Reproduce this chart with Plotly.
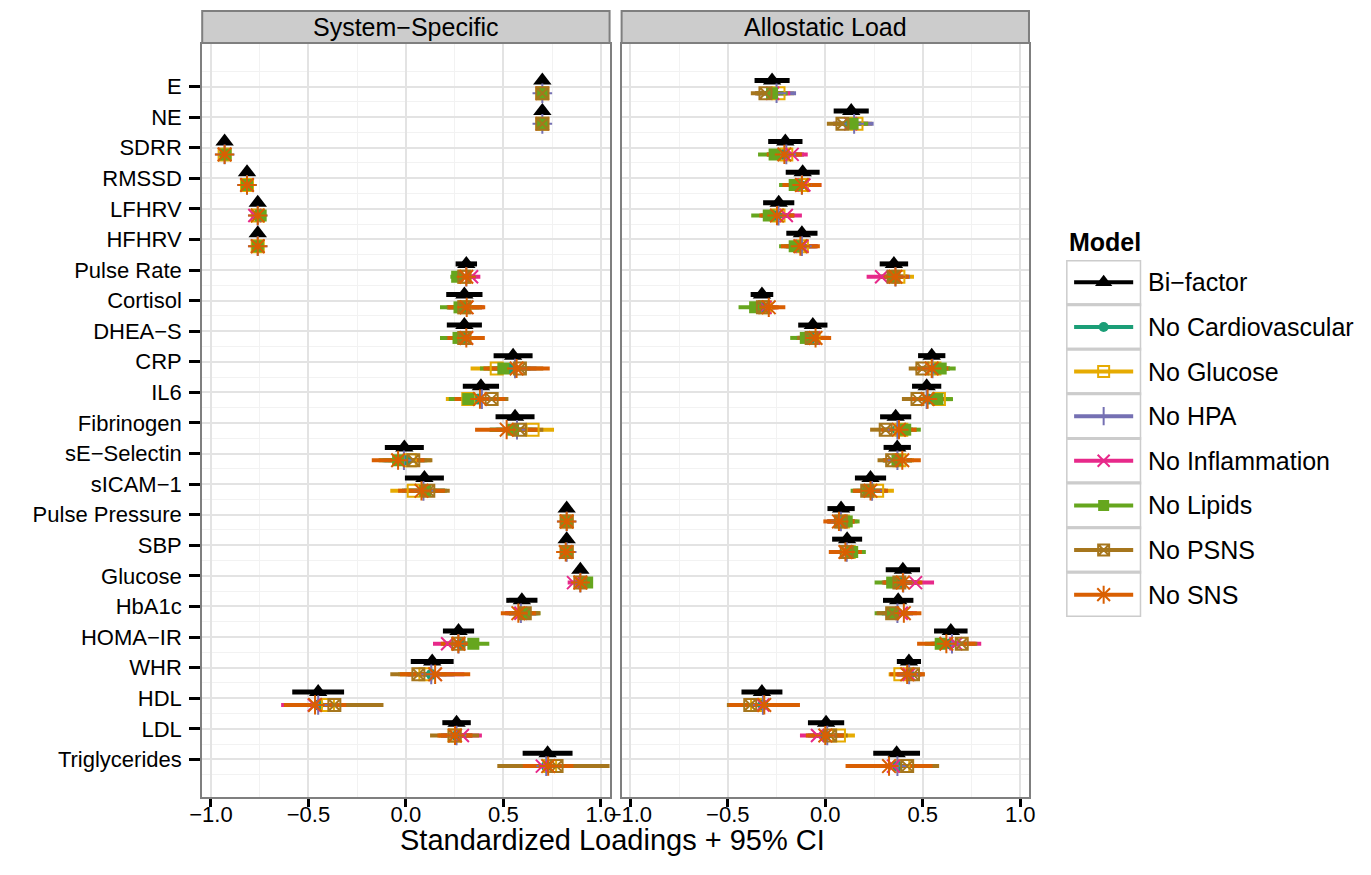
import plotly.graph_objects as go

W, H = 1371, 875

variables = ["E", "NE", "SDRR", "RMSSD", "LFHRV", "HFHRV", "Pulse Rate", "Cortisol",
             "DHEA\u2212S", "CRP", "IL6", "Fibrinogen", "sE\u2212Selectin", "sICAM\u22121",
             "Pulse Pressure", "SBP", "Glucose", "HbA1c", "HOMA\u2212IR", "WHR", "HDL",
             "LDL", "Triglycerides"]

models = ["Bi\u2212factor", "No Cardiovascular", "No Glucose", "No HPA",
          "No Inflammation", "No Lipids", "No PSNS", "No SNS"]
colors = ["#000000", "#1B9E77", "#E6AB02", "#7570B3", "#E7298A", "#66A61E", "#A6761D", "#D95F02"]
symbols = ["triangle-up", "circle", "square-open", "cross-thin-open", "x-thin-open",
           "square", "square-x-open", "asterisk-open"]

N = None
# ---------------- System-Specific loadings (estimate, 95% CI half-width) ----------------
ss_bifactor_est = [0.70, 0.70, -0.93, -0.815, -0.76, -0.76, 0.31, 0.30, 0.30, 0.55, 0.385, 0.56, -0.008, 0.095, 0.825, 0.825, 0.895, 0.595, 0.27, 0.135, -0.45, 0.26, 0.727]
ss_bifactor_hw = [0.012, 0.012, 0.012, 0.012, 0.012, 0.012, 0.055, 0.093, 0.09, 0.10, 0.093, 0.10, 0.10, 0.10, 0.012, 0.012, 0.015, 0.08, 0.08, 0.11, 0.133, 0.073, 0.128]
ss_cardio_est = [0.70, 0.70, -0.93, -0.815, -0.76, -0.76, N, 0.30, 0.30, 0.53, 0.37, 0.54, 0.0, 0.09, N, N, 0.90, 0.60, 0.28, 0.13, -0.45, 0.26, 0.72]
ss_cardio_hw = [0.012, 0.012, 0.012, 0.012, 0.012, 0.012, N, 0.09, 0.09, 0.11, 0.10, 0.11, 0.11, 0.11, N, N, 0.02, 0.08, 0.08, 0.12, 0.14, 0.08, 0.13]
ss_glucose_est = [0.70, 0.70, -0.93, -0.815, -0.76, -0.76, 0.30, 0.30, 0.30, 0.466, 0.32, 0.65, 0.02, 0.04, 0.825, 0.825, N, N, N, 0.10, -0.40, 0.25, 0.74]
ss_glucose_hw = [0.012, 0.012, 0.012, 0.012, 0.012, 0.012, 0.05, 0.09, 0.09, 0.134, 0.115, 0.11, 0.11, 0.12, 0.012, 0.012, N, N, N, 0.14, 0.15, 0.08, 0.14]
ss_hpa_est = [0.70, 0.70, -0.93, -0.815, -0.76, -0.76, 0.31, N, N, 0.56, 0.39, 0.57, -0.01, 0.09, 0.825, 0.825, 0.895, 0.59, 0.27, 0.13, -0.45, 0.26, 0.72]
ss_hpa_hw = [0.012, 0.012, 0.012, 0.012, 0.012, 0.012, 0.05, N, N, 0.11, 0.10, 0.11, 0.11, 0.11, 0.012, 0.012, 0.02, 0.08, 0.08, 0.12, 0.14, 0.08, 0.13]
ss_inflam_est = [0.70, 0.70, -0.93, -0.815, -0.775, -0.76, 0.337, 0.31, 0.31, N, N, N, N, N, 0.825, 0.825, 0.86, 0.59, 0.214, 0.15, -0.47, 0.29, 0.70]
ss_inflam_hw = [0.012, 0.012, 0.012, 0.012, 0.015, 0.012, 0.045, 0.09, 0.09, N, N, N, N, N, 0.012, 0.012, 0.03, 0.08, 0.075, 0.15, 0.17, 0.10, 0.13]
ss_lipids_est = [0.70, 0.70, -0.925, -0.815, -0.745, -0.76, 0.263, 0.275, 0.27, 0.50, 0.32, 0.55, -0.04, 0.10, 0.825, 0.825, 0.93, 0.61, 0.346, N, N, N, N]
ss_lipids_hw = [0.012, 0.012, 0.015, 0.012, 0.015, 0.012, 0.035, 0.10, 0.095, 0.12, 0.10, 0.12, 0.10, 0.11, 0.012, 0.012, 0.02, 0.08, 0.082, N, N, N, N]
ss_psns_est = [0.70, 0.70, N, N, N, N, 0.30, 0.30, 0.30, 0.585, 0.44, 0.585, 0.038, 0.115, 0.825, 0.825, 0.895, 0.61, 0.27, 0.064, -0.367, 0.25, 0.773]
ss_psns_hw = [0.012, 0.012, N, N, N, N, 0.05, 0.09, 0.09, 0.12, 0.086, 0.12, 0.098, 0.11, 0.012, 0.012, 0.02, 0.08, 0.08, 0.144, 0.252, 0.126, 0.304]
ss_sns_est = [N, N, -0.93, -0.815, -0.76, -0.76, 0.31, 0.312, 0.31, 0.568, 0.38, 0.517, -0.04, 0.08, 0.825, 0.82, 0.895, 0.577, 0.269, 0.15, -0.466, 0.252, 0.73]
ss_sns_hw = [N, N, 0.012, 0.012, 0.012, 0.012, 0.045, 0.095, 0.095, 0.17, 0.13, 0.162, 0.135, 0.12, 0.012, 0.012, 0.02, 0.09, 0.09, 0.18, 0.16, 0.09, 0.13]

# ---------------- Allostatic Load loadings (estimate, 95% CI half-width) ----------------
al_bifactor_est = [-0.273, 0.133, -0.205, -0.116, -0.239, -0.12, 0.352, -0.325, -0.064, 0.546, 0.52, 0.361, 0.369, 0.232, 0.081, 0.112, 0.398, 0.374, 0.644, 0.429, -0.325, 0.004, 0.366]
al_bifactor_hw = [0.09, 0.09, 0.088, 0.087, 0.08, 0.08, 0.073, 0.058, 0.075, 0.07, 0.075, 0.08, 0.07, 0.08, 0.07, 0.077, 0.088, 0.078, 0.086, 0.062, 0.105, 0.093, 0.12]
al_cardio_est = [-0.28, 0.12, -0.22, -0.13, -0.25, -0.13, N, -0.32, -0.07, 0.56, 0.53, 0.37, 0.37, 0.23, N, N, 0.39, 0.37, 0.64, 0.43, -0.32, 0.0, 0.37]
al_cardio_hw = [0.08, 0.08, 0.08, 0.08, 0.08, 0.08, N, 0.07, 0.08, 0.08, 0.08, 0.08, 0.075, 0.08, N, N, 0.09, 0.08, 0.09, 0.06, 0.11, 0.09, 0.13]
al_glucose_est = [-0.24, 0.16, -0.20, -0.12, -0.24, -0.12, 0.375, -0.31, -0.06, 0.56, 0.583, 0.39, 0.38, 0.266, 0.09, 0.12, N, N, N, 0.385, -0.35, 0.07, 0.40]
al_glucose_hw = [0.08, 0.08, 0.09, 0.09, 0.08, 0.08, 0.08, 0.07, 0.08, 0.08, 0.067, 0.08, 0.075, 0.086, 0.075, 0.08, N, N, N, 0.06, 0.11, 0.082, 0.13]
al_hpa_est = [-0.25, 0.148, -0.20, -0.12, -0.24, -0.12, 0.36, N, N, 0.55, 0.52, 0.37, 0.37, 0.24, 0.08, 0.11, 0.40, 0.37, 0.65, 0.43, -0.32, 0.01, 0.37]
al_hpa_hw = [0.10, 0.10, 0.09, 0.09, 0.08, 0.08, 0.075, N, N, 0.08, 0.08, 0.08, 0.075, 0.08, 0.07, 0.08, 0.09, 0.08, 0.09, 0.06, 0.11, 0.09, 0.13]
al_inflam_est = [-0.27, 0.13, -0.17, -0.11, -0.20, -0.12, 0.289, -0.31, -0.06, N, N, N, N, N, 0.08, 0.11, 0.463, 0.39, 0.67, 0.43, -0.32, -0.04, 0.35]
al_inflam_hw = [0.09, 0.09, 0.08, 0.09, 0.08, 0.08, 0.077, 0.07, 0.08, N, N, N, N, N, 0.07, 0.08, 0.095, 0.08, 0.13, 0.065, 0.11, 0.09, 0.13]
al_lipids_est = [-0.273, 0.14, -0.26, -0.157, -0.29, -0.157, 0.352, -0.36, -0.10, 0.592, 0.575, 0.41, 0.37, 0.22, 0.11, 0.138, 0.343, 0.343, 0.592, N, N, N, N]
al_lipids_hw = [0.08, 0.08, 0.085, 0.08, 0.09, 0.08, 0.07, 0.085, 0.08, 0.077, 0.08, 0.08, 0.075, 0.09, 0.066, 0.07, 0.09, 0.09, 0.08, N, N, N, N]
al_psns_est = [-0.307, 0.088, N, N, N, N, 0.35, -0.32, -0.07, 0.498, 0.473, 0.31, 0.343, 0.215, 0.08, 0.11, 0.38, 0.343, 0.70, 0.45, -0.385, 0.025, 0.42]
al_psns_hw = [0.075, 0.08, N, N, N, N, 0.07, 0.06, 0.075, 0.07, 0.08, 0.08, 0.075, 0.075, 0.07, 0.075, 0.09, 0.08, 0.08, 0.06, 0.12, 0.09, 0.164]
al_sns_est = [N, N, -0.21, -0.12, -0.248, -0.128, 0.36, -0.29, -0.05, 0.546, 0.525, 0.378, 0.395, 0.232, 0.07, 0.103, 0.398, 0.403, 0.621, 0.42, -0.313, 0.0, 0.327]
al_sns_hw = [N, N, 0.09, 0.10, 0.09, 0.10, 0.07, 0.085, 0.08, 0.085, 0.09, 0.09, 0.095, 0.09, 0.08, 0.085, 0.10, 0.09, 0.15, 0.09, 0.183, 0.10, 0.223]

panel_titles = ["System\u2212Specific", "Allostatic Load"]
x_tickvals = [-1.0, -0.5, 0.0, 0.5, 1.0]
x_ticktext = ["\u22121.0", "\u22120.5", "0.0", "0.5", "1.0"]

ss_data = [(ss_bifactor_est, ss_bifactor_hw), (ss_cardio_est, ss_cardio_hw), (ss_glucose_est, ss_glucose_hw),
           (ss_hpa_est, ss_hpa_hw), (ss_inflam_est, ss_inflam_hw), (ss_lipids_est, ss_lipids_hw),
           (ss_psns_est, ss_psns_hw), (ss_sns_est, ss_sns_hw)]
al_data = [(al_bifactor_est, al_bifactor_hw), (al_cardio_est, al_cardio_hw), (al_glucose_est, al_glucose_hw),
           (al_hpa_est, al_hpa_hw), (al_inflam_est, al_inflam_hw), (al_lipids_est, al_lipids_hw),
           (al_psns_est, al_psns_hw), (al_sns_est, al_sns_hw)]

FONT = "Liberation Sans, Arial, sans-serif"


# target pixel positions -> page coordinates (page is shown with an offset)
def PX(p):
    return ((p - 22.2) / 0.984) / W


def PY(p):
    return 1 - (p - 8) / H


nvar = len(variables)
ypos = [nvar - 1 - i for i in range(nvar)]
offsets = [0.2] + [-0.22] * 7
sizes = [16, 11, 12, 14, 13, 12, 12, 16]
lws = [5, 4, 4, 4, 4, 4, 4, 4]

fig = go.Figure()

panels = [(ss_data, "x", "y"), (al_data, "x2", "y2")]
for data, xa, ya in panels:
    for m, (est, hw) in enumerate(data):
        xs, ys = [], []
        for i in range(nvar):
            if est[i] is None:
                continue
            xs += [est[i] - hw[i], est[i] + hw[i], None]
            ys += [ypos[i] + offsets[m], ypos[i] + offsets[m], None]
        fig.add_trace(go.Scatter(x=xs, y=ys, mode="lines", xaxis=xa, yaxis=ya,
                                 line=dict(color=colors[m], width=lws[m]),
                                 showlegend=False, hoverinfo="skip"))
for data, xa, ya in panels:
    for m, (est, hw) in enumerate(data):
        xs, ys = [], []
        for i in range(nvar):
            if est[i] is None:
                continue
            xs.append(est[i])
            ys.append(ypos[i] + offsets[m])
        fig.add_trace(go.Scatter(x=xs, y=ys, mode="markers", xaxis=xa, yaxis=ya, name=models[m],
                                 marker=dict(symbol=symbols[m], size=sizes[m], color=colors[m],
                                             line=dict(color=colors[m], width=2 if "open" in symbols[m] else 0)),
                                 showlegend=False))

# ---------------- custom legend (ggplot-style keys) ----------------
nm = len(models)
for m in range(nm):
    yc = nm - m - 0.5
    fig.add_trace(go.Scatter(x=[0.107, 0.893], y=[yc, yc], mode="lines", xaxis="x3", yaxis="y3",
                             line=dict(color=colors[m], width=4), showlegend=False, hoverinfo="skip"))
    fig.add_trace(go.Scatter(x=[0.5], y=[yc], mode="markers", xaxis="x3", yaxis="y3",
                             marker=dict(symbol=symbols[m], size=sizes[m] - 1, color=colors[m],
                                         line=dict(color=colors[m], width=2 if "open" in symbols[m] else 0)),
                             showlegend=False, hoverinfo="skip"))

shapes = []
annotations = []
for m in range(nm):
    shapes.append(dict(type="rect", xref="x3", yref="y3", x0=0, x1=1, y0=nm - m - 1, y1=nm - m,
                       line=dict(color="#CCCCCC", width=3), fillcolor="white", layer="below"))
    annotations.append(dict(xref="paper", yref="y3", x=PX(1145), y=nm - m - 0.5, text=models[m],
                            showarrow=False, xanchor="left", yanchor="middle",
                            font=dict(family=FONT, size=25, color="black")))
annotations.append(dict(xref="paper", yref="paper", x=PX(1066), y=PY(242), text="<b>Model</b>",
                        showarrow=False, xanchor="left", yanchor="middle",
                        font=dict(family=FONT, size=25, color="black")))

# strips
for k, xd in enumerate(["x domain", "x2 domain"]):
    shapes.append(dict(type="rect", xref=xd, yref="paper", x0=0, x1=1, y0=PY(43), y1=PY(11),
                       line=dict(color="#7F7F7F", width=2), fillcolor="#CCCCCC"))
    annotations.append(dict(xref=xd, yref="paper", x=0.5, y=PY(27.5), text=panel_titles[k],
                            showarrow=False, xanchor="center", yanchor="middle",
                            font=dict(family=FONT, size=25, color="black")))
# x-axis title
annotations.append(dict(xref="paper", yref="paper", x=PX(612), y=PY(840),
                        text="Standardized Loadings + 95% CI", showarrow=False,
                        xanchor="center", yanchor="middle", font=dict(family=FONT, size=29, color="black")))

xcommon = dict(range=[-1.045, 1.045], tickvals=x_tickvals, ticktext=x_ticktext, ticks="outside",
               ticklen=8, tickwidth=3, tickcolor="black", ticklabelstandoff=-11,
               showgrid=True, gridcolor="#E3E3E3", gridwidth=1.5,
               zeroline=False, showline=True, linecolor="#7F7F7F", linewidth=2, mirror=True,
               tickfont=dict(family=FONT, size=22, color="black"),
               minor=dict(tickvals=[-0.75, -0.25, 0.25, 0.75], showgrid=True, gridcolor="#F2F2F2",
                          gridwidth=1, ticks=""))
yrange = [-1.23, nvar - 1 + 1.39]
ycommon = dict(range=yrange, showgrid=True, gridcolor="#E3E3E3", gridwidth=1.5, zeroline=False,
               showline=True, linecolor="#7F7F7F", linewidth=2, mirror=True,
               minor=dict(tickvals=[p + 0.5 for p in range(-1, nvar)], showgrid=True, gridcolor="#F2F2F2",
                          gridwidth=1, ticks=""),
               domain=[PY(797), PY(44)])

fig.update_layout(
    width=W, height=H, margin=dict(l=0, r=0, t=0, b=0),
    paper_bgcolor="white", plot_bgcolor="white", showlegend=False,
    xaxis=dict(domain=[PX(203), PX(609.5)], anchor="y", **xcommon),
    xaxis2=dict(domain=[PX(621.5), PX(1028)], anchor="y2", **xcommon),
    yaxis=dict(anchor="x", tickvals=ypos, ticktext=variables, ticks="outside", ticklen=11, tickwidth=3,
               tickcolor="black", ticklabelstandoff=3, tickfont=dict(family=FONT, size=22, color="black"),
               **ycommon),
    yaxis2=dict(anchor="x2", tickvals=ypos, showticklabels=False, ticks="", **ycommon),
    xaxis3=dict(domain=[PX(1065), PX(1140)], range=[0, 1], visible=False, anchor="y3"),
    yaxis3=dict(domain=[PY(617), PY(260)], range=[0, nm], visible=False, anchor="x3"),
    shapes=shapes, annotations=annotations,
)

fig.write_html("out.html")
